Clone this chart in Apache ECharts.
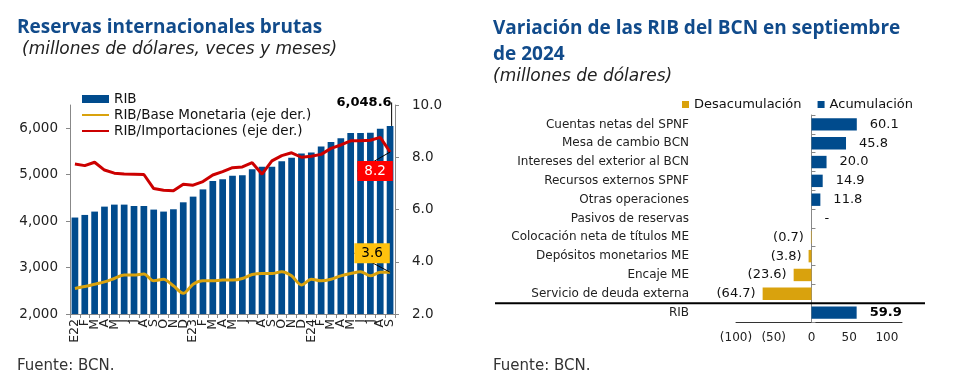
<!DOCTYPE html>
<html><head><meta charset="utf-8">
<script src="https://cdn.jsdelivr.net/npm/echarts@6/dist/echarts.min.js"></script>
<style>html,body{margin:0;padding:0;background:#fff}#c{width:960px;height:383px}</style>
</head><body><div id="c"></div>
<script>
// ---- Left chart data ----
const months = ['E22','F','M','A','M','J','J','A','S','O','N','D','E23','F','M','A','M','J','J','A','S','O','N','D','E24','F','M','A','M','J','J','A','S'];
const rib = [4077,4133,4205,4312,4355,4355,4326,4326,4248,4205,4255,4405,4527,4683,4861,4904,4976,4990,5118,5169,5169,5289,5362,5454,5475,5604,5704,5782,5897,5897,5904,5989,6048.6];
const ribBase = [2.98,3.05,3.14,3.23,3.36,3.49,3.49,3.53,3.27,3.33,3.08,2.79,3.14,3.27,3.27,3.30,3.30,3.36,3.51,3.55,3.55,3.62,3.46,3.11,3.33,3.27,3.33,3.46,3.55,3.62,3.46,3.60,3.6];
const ribImport = [7.74,7.68,7.81,7.51,7.39,7.36,7.35,7.34,6.80,6.74,6.72,6.97,6.93,7.07,7.32,7.45,7.60,7.63,7.79,7.35,7.86,8.06,8.17,8.00,8.04,8.11,8.34,8.47,8.63,8.63,8.65,8.76,8.2];
const leftTicks = [2000,3000,4000,5000,6000];

// ---- Right chart data ----
const rightCats = ['Cuentas netas del SPNF','Mesa de cambio BCN','Intereses del exterior al BCN','Recursos externos SPNF','Otras operaciones','Pasivos de reservas','Colocación neta de títulos ME','Depósitos monetarios ME','Encaje ME','Servicio de deuda externa','RIB'];
const acum = [60.1,45.8,20.0,14.9,11.8,0,'-','-','-','-',59.9];
const desacum = ['-','-','-','-','-','-',-0.7,-3.8,-23.6,-64.7,'-'];
const rightTicks = [-100,-50,0,50,100];

const BLUE = '#004B8D', YEL = '#D9A20D', RED = '#CC0000', TITLE = '#114B8B';
const F = 'DejaVu Sans';
const last = rib.length - 1;

const chart = echarts.init(document.getElementById('c'));
const ribData = rib.map((v, i) => i === last ? {
  value: v,
  label: {show: true, position: 'top', formatter: (p) => p.value.toLocaleString('en-US', {minimumFractionDigits: 1}),
          fontFamily: F, fontWeight: 'bold', fontSize: 13, color: '#000'},
  labelLine: {show: true, lineStyle: {color: '#000', width: 1}}
} : v);

const acumData = acum.map((v, i) => rightCats[i] === 'RIB' ? {value: v, label: {fontWeight: 'bold', color: '#000'}} : v);

const titleStyle = {fontFamily: 'Open Sans', fontWeight: 'bold', fontSize: 19, color: TITLE};
const subStyle = {fontFamily: F, fontStyle: 'italic', fontWeight: 'normal', fontSize: 17, color: '#222'};
const srcStyle = {fontFamily: F, fontWeight: 'normal', fontSize: 15, color: '#333'};

const option = {
  animation: false,
  textStyle: {fontFamily: F},
  title: [
    {text: 'Reservas internacionales brutas', left: 17, top: 18, padding: 0, textStyle: titleStyle},
    {text: '(millones de dólares, veces y meses)', left: 22, top: 41, padding: 0, textStyle: subStyle},
    {text: 'Variación de las RIB del BCN en septiembre\nde 2024', left: 493, top: 16, padding: 0, textStyle: Object.assign({lineHeight: 26}, titleStyle)},
    {text: '(millones de dólares)', left: 493, top: 68, padding: 0, textStyle: subStyle},
    {text: 'Fuente: BCN.', left: 17, top: 359, padding: 0, textStyle: srcStyle},
    {text: 'Fuente: BCN.', left: 493, top: 359, padding: 0, textStyle: srcStyle}
  ],
  legend: [
    {orient: 'vertical', left: 81, top: 92, itemWidth: 27, itemHeight: 8, itemGap: 2, padding: 0,
     textStyle: {fontFamily: F, fontSize: 13.5, color: '#111'},
     data: [{name: 'RIB', icon: 'rect'},
            {name: 'RIB/Base Monetaria (eje der.)', itemStyle: {opacity: 0}},
            {name: 'RIB/Importaciones (eje der.)', itemStyle: {opacity: 0}}]},
    {orient: 'horizontal', left: 682, top: 98, itemWidth: 7, itemHeight: 7, itemGap: 16, padding: 0,
     textStyle: {fontFamily: F, fontSize: 13, color: '#111'},
     data: [{name: 'Desacumulación', icon: 'rect'}, {name: 'Acumulación', icon: 'rect'}]}
  ],
  grid: [
    {left: 70, top: 105, width: 325, height: 209},
    {left: 736, top: 115, width: 166, height: 207}
  ],
  xAxis: [
    {type: 'category', gridIndex: 0, data: months,
     axisLine: {lineStyle: {color: '#888'}}, axisTick: {show: true, length: 4, lineStyle: {color: '#888'}},
     axisLabel: {rotate: 90, interval: 0, fontSize: 12.5, color: '#222', margin: 5, hideOverlap: false}},
    {type: 'value', gridIndex: 1, min: -100, max: 120,
     axisLine: {show: true, onZero: false, lineStyle: {color: '#333'}}, axisTick: {show: false}, splitLine: {show: false},
     axisLabel: {customValues: rightTicks, fontSize: 12, color: '#222', margin: 10,
                 formatter: (v) => v < 0 ? '(' + (-v) + ')' : String(v)}}
  ],
  yAxis: [
    {type: 'value', gridIndex: 0, min: 2000, max: 6500,
     axisLine: {show: true, lineStyle: {color: '#888'}},
     axisTick: {show: true, length: 4, customValues: leftTicks, lineStyle: {color: '#888'}},
     splitLine: {show: false},
     axisLabel: {customValues: leftTicks, fontSize: 13.5, color: '#222', margin: 12,
                 formatter: (v) => v.toLocaleString('en-US')}},
    {type: 'value', gridIndex: 0, position: 'right', min: 2, max: 10, interval: 2,
     axisLine: {show: true, lineStyle: {color: '#888'}},
     axisTick: {show: true, length: 4, lineStyle: {color: '#888'}},
     splitLine: {show: false},
     axisLabel: {fontSize: 13.5, color: '#222', margin: 17, formatter: (v) => v.toFixed(1)}},
    {type: 'category', gridIndex: 1, inverse: true, data: rightCats,
     axisLine: {show: false, onZero: false}, axisTick: {show: false},
     axisLabel: {fontSize: 12, color: '#222', margin: 47, interval: 0}},
    {type: 'category', gridIndex: 1, inverse: true, data: rightCats,
     axisLine: {show: true, onZero: true, lineStyle: {color: '#888'}},
     axisTick: {show: true, length: 4, lineStyle: {color: '#888'}},
     axisLabel: {show: false}}
  ],
  series: [
    {name: 'RIB', type: 'bar', xAxisIndex: 0, yAxisIndex: 0, data: ribData, barCategoryGap: '32%',
     itemStyle: {color: BLUE}, z: 2,
     labelLayout: (p) => p.dataIndex === last ? {dx: -26, dy: -12} : undefined},
    {name: 'RIB/Base Monetaria (eje der.)', type: 'line', xAxisIndex: 0, yAxisIndex: 1, data: ribBase,
     symbol: 'none', smooth: 0.3, lineStyle: {color: YEL, width: 3}, itemStyle: {color: YEL}, z: 3},
    {name: 'RIB/Importaciones (eje der.)', type: 'line', xAxisIndex: 0, yAxisIndex: 1, data: ribImport,
     symbol: 'none', lineStyle: {color: RED, width: 3}, itemStyle: {color: RED}, z: 4},
    {name: 'ann-import', type: 'scatter', xAxisIndex: 0, yAxisIndex: 1, symbolSize: 0, z: 6,
     itemStyle: {opacity: 1},
     data: [[last, ribImport[last]]],
     label: {show: true, position: 'inside', formatter: (p) => p.value[1].toFixed(1), color: '#fff', opacity: 1,
             backgroundColor: '#FF0000', padding: [3, 7], fontSize: 13.5, fontFamily: F},
     labelLine: {show: true, lineStyle: {color: '#000', width: 1, opacity: 1}},
     labelLayout: {dx: -15, dy: 19}},
    {name: 'ann-base', type: 'scatter', xAxisIndex: 0, yAxisIndex: 1, symbolSize: 0, z: 6,
     itemStyle: {opacity: 1},
     data: [[last, ribBase[last]]],
     label: {show: true, position: 'inside', formatter: (p) => p.value[1].toFixed(1), color: '#000', opacity: 1,
             backgroundColor: '#FFC20E', padding: [3, 7], fontSize: 13.5, fontFamily: F},
     labelLine: {show: true, lineStyle: {color: '#000', width: 1, opacity: 1}},
     labelLayout: {dx: -18, dy: -19}},
    {name: 'Acumulación', type: 'bar', xAxisIndex: 1, yAxisIndex: 2, stack: 'r', data: acumData,
     barCategoryGap: '34%', itemStyle: {color: BLUE},
     label: {show: true, position: 'right', distance: 13, fontSize: 13, color: '#111', fontFamily: F,
             formatter: (p) => p.value === 0 ? '-' : p.value.toFixed(1)}},
    {name: 'Desacumulación', type: 'bar', xAxisIndex: 1, yAxisIndex: 2, stack: 'r', data: desacum,
     barCategoryGap: '34%', itemStyle: {color: YEL},
     label: {show: true, position: 'left', distance: 7, fontSize: 13, color: '#111', fontFamily: F,
             formatter: (p) => '(' + (-p.value).toFixed(1) + ')'}}
  ],
  graphic: [
    {type: 'line', z: 10, shape: {x1: 495, y1: 115 + 207 * 10 / 11, x2: 925, y2: 115 + 207 * 10 / 11},
     style: {stroke: '#000', lineWidth: 2}}
  ]
};
chart.setOption(option);
</script></body></html>
